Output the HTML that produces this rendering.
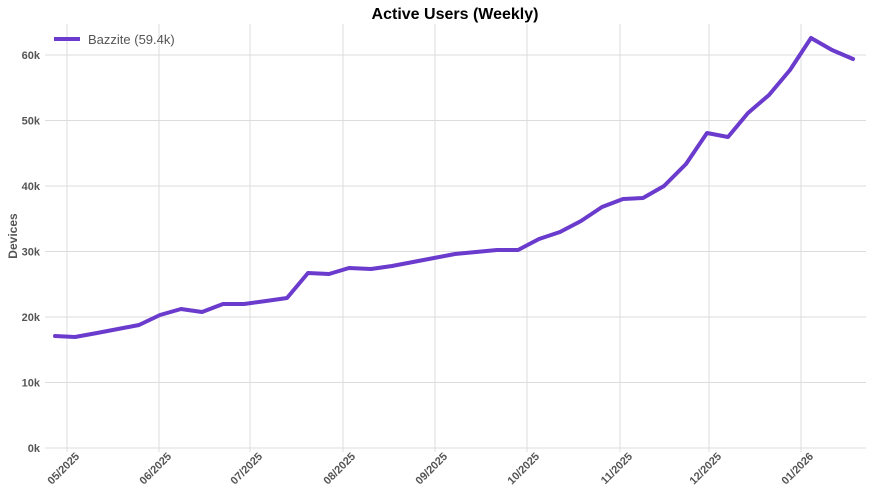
<!DOCTYPE html>
<html><head><meta charset="utf-8"><style>
html,body{margin:0;padding:0;background:#fff;}
svg text{font-family:"Liberation Sans",sans-serif;}
</style></head><body>
<svg width="876" height="493" viewBox="0 0 876 493" xmlns="http://www.w3.org/2000/svg">
<rect width="876" height="493" fill="#fff"/>
<text x="455" y="19" text-anchor="middle" font-size="16" font-weight="bold" fill="#000">Active Users (Weekly)</text>
<g stroke="#dcdcdc" stroke-width="1">
<line x1="45" x2="866" y1="448" y2="448"/>
<line x1="45" x2="866" y1="382.5" y2="382.5"/>
<line x1="45" x2="866" y1="317" y2="317"/>
<line x1="45" x2="866" y1="251.5" y2="251.5"/>
<line x1="45" x2="866" y1="186" y2="186"/>
<line x1="45" x2="866" y1="120.5" y2="120.5"/>
<line x1="45" x2="866" y1="55" y2="55"/>
<line x1="67" x2="67" y1="24" y2="452"/>
<line x1="159" x2="159" y1="24" y2="452"/>
<line x1="250" x2="250" y1="24" y2="452"/>
<line x1="343" x2="343" y1="24" y2="452"/>
<line x1="435" x2="435" y1="24" y2="452"/>
<line x1="527" x2="527" y1="24" y2="452"/>
<line x1="620" x2="620" y1="24" y2="452"/>
<line x1="709" x2="709" y1="24" y2="452"/>
<line x1="801" x2="801" y1="24" y2="452"/>
</g>
<g font-size="11" font-weight="bold" fill="#555" text-anchor="end">
<text x="40" y="452">0k</text>
<text x="40" y="386.5">10k</text>
<text x="40" y="321">20k</text>
<text x="40" y="255.5">30k</text>
<text x="40" y="190">40k</text>
<text x="40" y="124.5">50k</text>
<text x="40" y="59">60k</text>
</g>
<text transform="translate(17,236) rotate(-90)" text-anchor="middle" font-size="12" font-weight="bold" fill="#555">Devices</text>
<g font-size="11" font-weight="bold" fill="#555" text-anchor="end">
<text transform="translate(80,457) rotate(-45)">05/2025</text>
<text transform="translate(172,457) rotate(-45)">06/2025</text>
<text transform="translate(263,457) rotate(-45)">07/2025</text>
<text transform="translate(356,457) rotate(-45)">08/2025</text>
<text transform="translate(448,457) rotate(-45)">09/2025</text>
<text transform="translate(540,457) rotate(-45)">10/2025</text>
<text transform="translate(633,457) rotate(-45)">11/2025</text>
<text transform="translate(722,457) rotate(-45)">12/2025</text>
<text transform="translate(814,457) rotate(-45)">01/2026</text>
</g>
<polyline fill="none" stroke="#6a3bcc" stroke-width="4" stroke-linejoin="round" stroke-linecap="round" points="55,336 75,337 97,333 118,329 139,325 160,315 181,309 202,312 223,304 244,304 266,301 287,298 308,273 329,274 349,268 371,269 392,266 413,262 434,258 455,254 476,252 497,250 518,250 539,239 560,232 581,221 602,207 623,199 643,198 664,186 686,164 707,133 728,137 748,113 769,95 790,70 811,38 832,50 853,59"/>
<line x1="54" x2="80" y1="39" y2="39" stroke="#6a3bcc" stroke-width="4"/>
<text x="88" y="44" font-size="13" fill="#555">Bazzite (59.4k)</text>
</svg>
</body></html>
